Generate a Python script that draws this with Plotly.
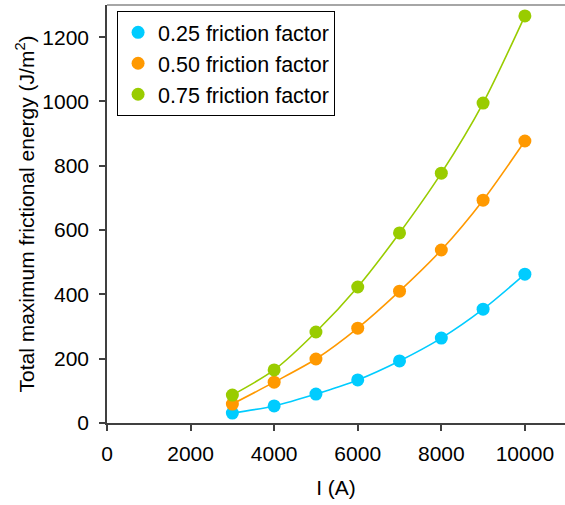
import plotly.graph_objects as go

current = [3000, 4000, 5000, 6000, 7000, 8000, 9000, 10000]
energy_025 = [31, 53, 90, 134, 193, 264, 354, 463]
energy_050 = [59, 127, 199, 295, 410, 538, 693, 877]
energy_075 = [87, 165, 283, 423, 591, 777, 995, 1266]
names = ["0.25 friction factor", "0.50 friction factor", "0.75 friction factor"]
colors = ["#00CCFF", "#FF9900", "#99CC00"]
x_ticks = [0, 2000, 4000, 6000, 8000, 10000]
x_ticktext = ["0", "2000", "4000", "6000", "8000", "10000"]
y_ticks = [0, 200, 400, 600, 800, 1000, 1200]

FONT = "Liberation Sans, Arial, sans-serif"

fig = go.Figure()
for name, ys, c in zip(names, [energy_025, energy_050, energy_075], colors):
    fig.add_trace(go.Scatter(
        x=current, y=ys, name=name, mode="lines", showlegend=False,
        line=dict(color=c, width=1.6, shape="spline", smoothing=0.8),
        legendgroup=name, hoverinfo="skip",
    ))
for name, ys, c in zip(names, [energy_025, energy_050, energy_075], colors):
    fig.add_trace(go.Scatter(
        x=current, y=ys, name=name, mode="markers",
        marker=dict(color=c, size=13),
        legendgroup=name, cliponaxis=False,
    ))

fig.update_layout(
    width=565, height=505,
    margin=dict(l=107, r=0, t=5, b=82, autoexpand=False),
    paper_bgcolor="white", plot_bgcolor="white",
    font=dict(family=FONT, size=21, color="black"),
    showlegend=True,
    legend=dict(
        x=0.022, y=0.986, xanchor="left", yanchor="top",
        bordercolor="black", borderwidth=1, bgcolor="white",
        font=dict(size=21.5, color="black"), itemwidth=30, tracegroupgap=0,
    ),
    xaxis=dict(
        range=[0, 10960], tickvals=x_ticks, ticktext=x_ticktext,
        showgrid=False, zeroline=False, automargin=False,
        showline=True, linecolor="#404040", linewidth=1.5,
        ticks="outside", ticklen=6, tickcolor="#404040", tickwidth=1.5,
        tickfont=dict(size=21, color="black"), ticklabelstandoff=5,
        title=dict(text="I (A)", font=dict(size=21, color="black"), standoff=16),
    ),
    yaxis=dict(
        range=[0, 1300], tickvals=y_ticks, showgrid=False, zeroline=False,
        automargin=False,
        showline=True, linecolor="#404040", linewidth=1.5,
        ticks="outside", ticklen=6, tickcolor="#404040", tickwidth=1.5,
        tickfont=dict(size=21, color="black"), ticklabelstandoff=6,
        title=dict(text="Total maximum frictional energy (J/m<sup>2</sup>)",
                   font=dict(size=21, color="black"), standoff=2),
    ),
    shapes=[dict(type="line", xref="paper", yref="paper", x0=0, x1=1, y0=1, y1=1,
                 line=dict(color="#888888", width=1.5))],
)

fig.write_html("out.html", config={"displayModeBar": False},
               post_script="document.body.style.margin='0';")
